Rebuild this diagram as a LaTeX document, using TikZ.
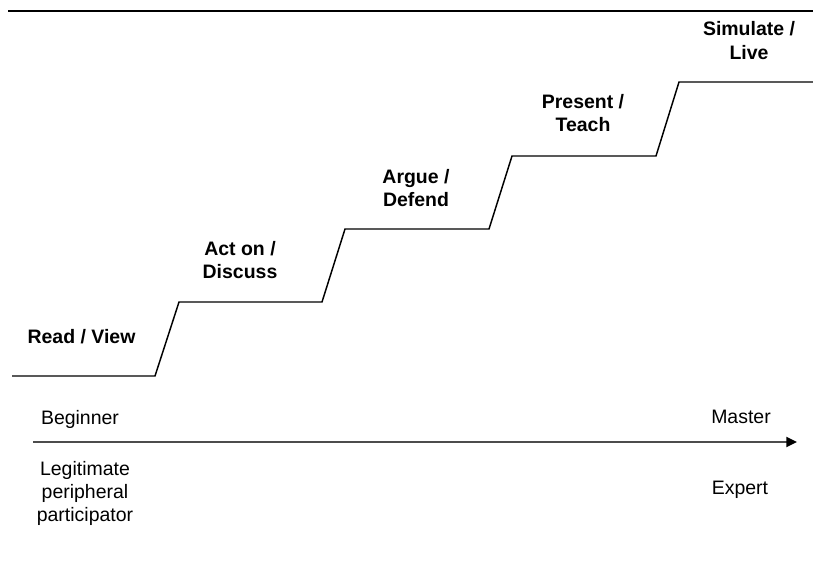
\documentclass[tikz,border=0pt]{standalone}
\usepackage{fontspec}
\setmainfont{Liberation Sans}
\usepackage{tikz}
\usetikzlibrary{arrows.meta}

\tikzset{
  steplabel/.style={font=\fontsize{14.6}{17.25}\selectfont\bfseries, align=center, anchor=base, inner sep=0pt},
  axislabel/.style={font=\fontsize{14.6}{17.25}\selectfont, align=center, anchor=base, inner sep=0pt},
  stairline/.style={line width=1.1pt, line join=miter},
  axisline/.style={line width=1.5pt, draw=black!70, -{Triangle[length=8pt,width=7.5pt,color=black]}}
}

\begin{document}
\begin{tikzpicture}[x=0.75pt, y=-0.75pt]
\useasboundingbox (0,0) rectangle (813,564);
% top rule
\coordinate (ruleL) at (8,11);
\coordinate (ruleR) at (813,11);
\draw[line width=2pt] (ruleL) -- (ruleR);
% stair corners
\foreach \i/\xs/\xe/\y in {0/12/155/376, 1/179/322/302, 2/345/489/229, 3/512/656/156, 4/679/813/82} {
  \coordinate (s\i) at (\xs,\y);
  \coordinate (e\i) at (\xe,\y);
}
\draw[stairline] (s0) -- (e0) -- (s1) -- (e1) -- (s2) -- (e2) -- (s3) -- (e3) -- (s4) -- (e4);
% stage labels (base = last line)
\node[steplabel] (read) at (81.5,343) {Read / View};
\node[steplabel] (act) at (240,278) {Act on /\\Discuss};
\node[steplabel] (argue) at (416,206) {Argue /\\Defend};
\node[steplabel] (present) at (583,131) {Present /\\Teach};
\node[steplabel] (simulate) at (749,59) {Simulate /\\Live};
% axis
\coordinate (axisL) at (33,442);
\coordinate (axisR) at (797,442);
\draw[axisline] (axisL) -- (axisR);
\node[axislabel] (beginner) at (80,424) {Beginner};
\node[axislabel] (master) at (741,423) {Master};
\node[axislabel] (lpp) at (85,521) {Legitimate\\peripheral\\participator};
\node[axislabel] (expert) at (740,494) {Expert};
\end{tikzpicture}
\end{document}
